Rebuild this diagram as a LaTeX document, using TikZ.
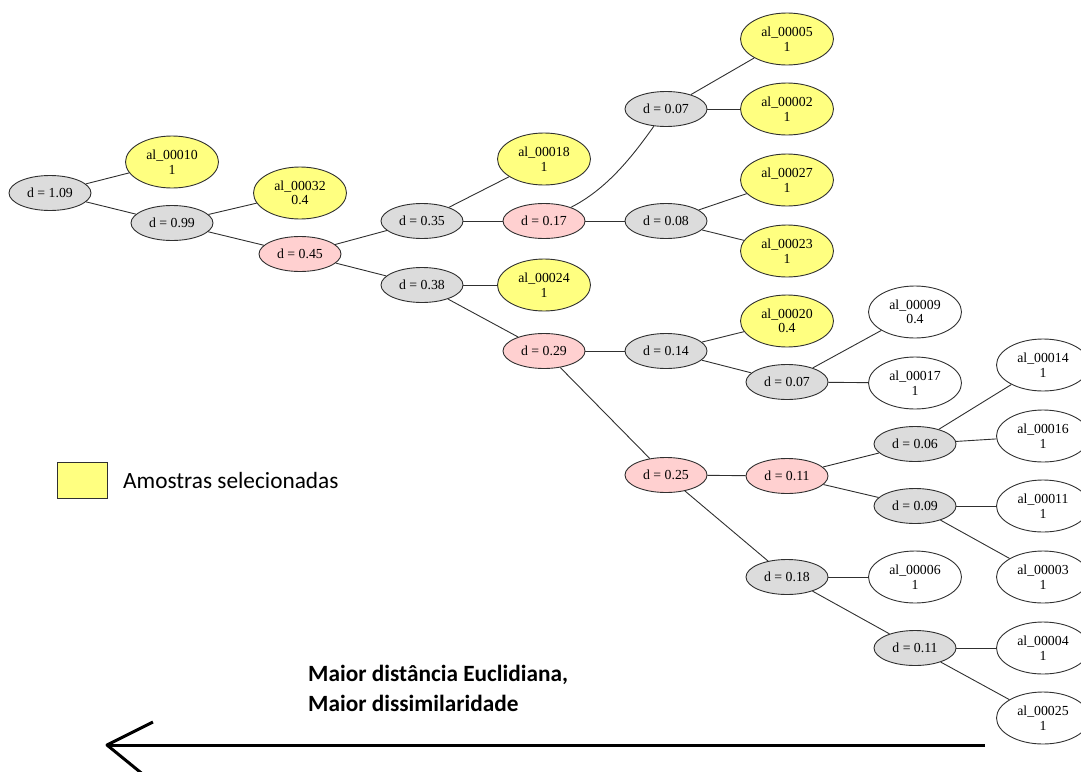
\documentclass[tikz,border=0pt]{standalone}
\usepackage{fontspec}
\setmainfont{Liberation Serif}
\newfontfamily\calib{Carlito}
\usetikzlibrary{shapes.geometric}
\definecolor{ylw}{HTML}{FFFF80}
\definecolor{gry}{HTML}{DCDCDC}
\definecolor{pnk}{HTML}{FFD0D0}
\definecolor{edg}{HTML}{303030}
\tikzset{
 base/.style={ellipse, draw=edg, line width=0.9pt, inner sep=0pt, font=\fontsize{13.8}{14.5}\selectfont, align=center},
 dnode/.style={base, fill=gry, minimum width=82pt, minimum height=35pt},
 dsel/.style={dnode, fill=pnk},
 leaf/.style={base, fill=white, minimum width=93pt, minimum height=52pt},
 sel/.style={leaf, fill=ylw},
 edge/.style={draw=edg, line width=0.9pt},
 bigarrow/.style={line width=3pt, draw=black},
}
\begin{document}
\begin{tikzpicture}[x=1pt,y=-1pt]
\useasboundingbox (0,0) rectangle (1081,771);
\clip (0,0) rectangle (1081,771);
% internal nodes
\node[dnode] (n109) at (50,193) {d = 1.09};
\node[dnode] (n099) at (172,223) {d = 0.99};
\node[dsel]  (n045) at (300,254) {d = 0.45};
\node[dnode] (n035) at (422,221) {d = 0.35};
\node[dsel]  (n017) at (544,221) {d = 0.17};
\node[dnode] (n007a) at (666,109) {d = 0.07};
\node[dnode] (n008) at (666,221) {d = 0.08};
\node[dnode] (n038) at (422,285) {d = 0.38};
\node[dsel]  (n029) at (544,351) {d = 0.29};
\node[dnode] (n014) at (666,351) {d = 0.14};
\node[dnode] (n007b) at (787,382) {d = 0.07};
\node[dsel]  (n025) at (666,475) {d = 0.25};
\node[dsel]  (n011a) at (787,476) {d = 0.11};
\node[dnode] (n006) at (915,444) {d = 0.06};
\node[dnode] (n009) at (915,506) {d = 0.09};
\node[dnode] (n018) at (787,577) {d = 0.18};
\node[dnode] (n011b) at (915,648) {d = 0.11};
% leaves
\node[sel] (l10) at (172,162) {al\_00010\\1};
\node[sel] (l32) at (300,193) {al\_00032\\0.4};
\node[sel] (l18) at (544,159) {al\_00018\\1};
\node[sel] (l05) at (787,39) {al\_00005\\1};
\node[sel] (l02) at (787,109) {al\_00002\\1};
\node[sel] (l27) at (787,180) {al\_00027\\1};
\node[sel] (l23) at (787,251) {al\_00023\\1};
\node[sel] (l24) at (544,285) {al\_00024\\1};
\node[sel] (l20) at (787,321) {al\_00020\\0.4};
\node[leaf] (l09) at (915,312) {al\_00009\\0.4};
\node[leaf] (l17) at (915,383) {al\_00017\\1};
\node[leaf] (l14) at (1043,365) {al\_00014\\1};
\node[leaf] (l16) at (1043,436) {al\_00016\\1};
\node[leaf] (l11) at (1043,506) {al\_00011\\1};
\node[leaf] (l03) at (1043,577) {al\_00003\\1};
\node[leaf] (l06) at (915,577) {al\_00006\\1};
\node[leaf] (l04) at (1043,648) {al\_00004\\1};
\node[leaf] (l25) at (1043,718) {al\_00025\\1};
% edges
\draw[edge] (n109) -- (l10);
\draw[edge] (n109) -- (n099);
\draw[edge] (n099) -- (l32);
\draw[edge] (n099) -- (n045);
\draw[edge] (n045) -- (n035);
\draw[edge] (n045) -- (n038);
\draw[edge] (n035) -- (l18);
\draw[edge] (n035) -- (n017);
\draw[edge] (n017) .. controls (605,190) and (630,160) .. (n007a);
\draw[edge] (n017) -- (n008);
\draw[edge] (n007a) -- (l05);
\draw[edge] (n007a) -- (l02);
\draw[edge] (n008) -- (l27);
\draw[edge] (n008) -- (l23);
\draw[edge] (n038) -- (l24);
\draw[edge] (n038) -- (n029);
\draw[edge] (n029) -- (n014);
\draw[edge] (n029) -- (n025);
\draw[edge] (n014) -- (l20);
\draw[edge] (n014) -- (n007b);
\draw[edge] (n007b) -- (l09);
\draw[edge] (n007b) -- (l17);
\draw[edge] (n025) -- (n011a);
\draw[edge] (n025) -- (n018);
\draw[edge] (n011a) -- (n006);
\draw[edge] (n011a) -- (n009);
\draw[edge] (n006) -- (l14);
\draw[edge] (n006) -- (l16);
\draw[edge] (n009) -- (l11);
\draw[edge] (n009) -- (l03);
\draw[edge] (n018) -- (l06);
\draw[edge] (n018) -- (n011b);
\draw[edge] (n011b) -- (l04);
\draw[edge] (n011b) -- (l25);
% legend
\node[draw=edg, fill=ylw, line width=0.9pt, minimum width=50pt, minimum height=36pt, inner sep=0pt] (legbox) at (82,480) {};
\node[anchor=west, inner sep=0pt, font=\calib\fontsize{23.3}{27}\selectfont] (legtxt) at (123,480) {Amostras selecionadas};
% arrow label
\node[anchor=west, inner sep=0pt, align=left, font=\calib\bfseries\fontsize{23.3}{30}\selectfont] (lbl) at (308,688) {Maior distância Euclidiana,\\Maior dissimilaridade};
% arrow
\coordinate (atail) at (985,745);
\coordinate (atip) at (107,745);
\coordinate (aup) at (153,722);
\coordinate (alow) at (145,776);
\draw[bigarrow] (atail) -- (atip);
\draw[bigarrow, line join=round] (aup) -- (atip) -- (alow);
\end{tikzpicture}
\end{document}
